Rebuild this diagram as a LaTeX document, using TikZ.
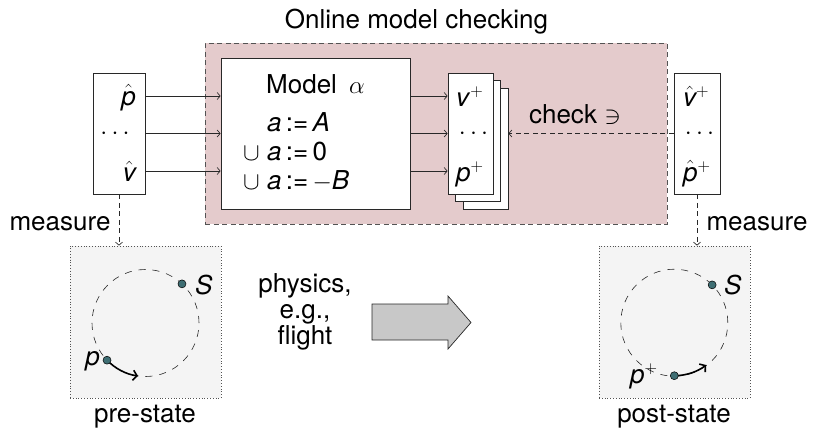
\documentclass[tikz,border=0pt]{standalone}
\usepackage{fontspec}
\setmainfont{TeX Gyre Heros}
\usetikzlibrary{arrows.meta,calc}

\definecolor{checkbg}{RGB}{228,203,204}
\definecolor{statebg}{RGB}{244,244,244}
\definecolor{dotfill}{RGB}{62,110,115}
\definecolor{flowfill}{RGB}{200,200,200}
\definecolor{edge}{RGB}{40,40,40}

\newcommand{\hv}[1]{$\hat{\mbox{\itshape #1}}$}
\newcommand{\iv}[1]{\textit{#1}}
\newcommand{\asg}{\,:=\,}

\begin{document}
\begin{tikzpicture}[x=1pt,y=-1pt,
  every node/.style={font=\fontsize{26}{26}\selectfont, inner sep=0pt},
  region/.style={rectangle, fill=checkbg, draw=edge!80, line width=0.8pt, dash pattern=on 5pt off 3.5pt},
  plainbox/.style={rectangle, fill=white, draw=edge, line width=0.8pt},
  statebox/.style={rectangle, fill=statebg, draw=edge!80, line width=0.8pt, dotted},
  feed/.style={draw=edge, line width=0.7pt, -{Straight Barb[length=3pt,width=7pt]}},
  probe/.style={draw=edge, line width=0.7pt, dash pattern=on 5pt off 3.5pt, -{Straight Barb[length=3pt,width=7pt]}},
  orbit/.style={draw=edge, line width=0.6pt, dash pattern=on 7pt off 7pt},
  motion/.style={draw=black, line width=1.6pt, -{Straight Barb[length=4pt,width=10pt,line width=1.6pt]}},
  dotmark/.style={circle, fill=dotfill, draw=black, line width=0.5pt, minimum size=8pt},
]
\useasboundingbox (0,0) rectangle (813,431);

% online model checking region
\node[region, minimum width=462pt, minimum height=181pt] (oc) at (436,133.5) {};
\node[anchor=base] (title) at (416.5,28) {Online model checking};

% model box
\node[plainbox, minimum width=189pt, minimum height=151pt] (model) at (315.5,133.5) {};
\node[anchor=base west] (mtitle) at (266,93) {Model\hspace{12pt}$\alpha$};
\node[anchor=base west] (r1) at (243,131.7) {\phantom{$\cup$} \iv{a}\asg\iv{A}};
\node[anchor=base west] (r2) at (243,160) {$\cup$ \iv{a}\asg0};
\node[anchor=base west] (r3) at (243,189.3) {$\cup$ \iv{a}\asg$-$\iv{B}};

% measured inputs
\node[plainbox, minimum width=52pt, minimum height=121pt] (in) at (119,133.5) {};
\node[anchor=base east] (inp) at (136,105) {\hv{p}};
\node[anchor=base] (indots) at (115,139.5) {$\cdots$};
\node[anchor=base east] (inv) at (136,181) {\hv{v}};

% predicted outputs (stack)
\node[plainbox, minimum width=45pt, minimum height=121pt] (out3) at (485.5,148.5) {};
\node[plainbox, minimum width=45pt, minimum height=121pt] (out2) at (478,141) {};
\node[plainbox, minimum width=45pt, minimum height=121pt] (out) at (470.5,133.5) {};
\node[anchor=base west] (outv) at (456,106) {\iv{v}$^{+}$};
\node[anchor=base] (outdots) at (473.5,139.5) {$\cdots$};
\node[anchor=base west] (outp) at (456,181) {\iv{p}$^{+}$};

% measured post values
\node[plainbox, minimum width=46pt, minimum height=121pt] (post) at (697,133.5) {};
\node[anchor=base west] (postv) at (683,106) {\hv{v}$^{+}$};
\node[anchor=base] (postdots) at (699.5,139.5) {$\cdots$};
\node[anchor=base west] (postp) at (683,181) {\hv{p}$^{+}$};

% data flow
\foreach \s in {37.5,0,-37.5}{
  \draw[feed] ([yshift=\s pt]in.east) -- ([yshift=\s pt]model.west);
  \draw[feed] ([yshift=\s pt]model.east) -- ([yshift=\s pt]out.west);
}
\draw[probe] (post.west) -- (post.west -| out3.east);
\node (chk) at (575,115) {check $\ni$};

% states
\node[statebox, minimum width=151pt, minimum height=152pt] (pre) at (145.5,322) {};
\node[statebox, minimum width=151pt, minimum height=152pt] (postst) at (674.5,322) {};
\node[anchor=base] (prelbl) at (145,422) {pre-state};
\node[anchor=base] (postlbl) at (674,422) {post-state};

\draw[probe] (in.south) -- (pre.north -| in.south);
\draw[probe] (post.south) -- (postst.north -| post.south);
\node (meas1) at (60,224) {measure};
\node (meas2) at (757,224) {measure};

% pre-state orbit
\coordinate (c1) at (145.5,323);
\draw[orbit] (c1) circle[radius=53.5pt];
\draw[motion] ($(c1)+(224:53.5pt)$) arc[start angle=224, end angle=262, radius=53.5pt];
\node[dotmark] (s1) at ($(c1)+(47:53.5pt)$) {};
\node[dotmark] (p1) at ($(c1)+(224:53.5pt)$) {};
\node[anchor=base west] (s1l) at (195,294) {\iv{S}};
\node[anchor=base east] (p1l) at (100,365) {\iv{p}};

% post-state orbit
\coordinate (c2) at (674.3,322.7);
\draw[orbit] (c2) circle[radius=53.5pt];
\draw[motion] ($(c2)+(270:53pt)$) arc[start angle=270, end angle=307, radius=53pt];
\node[dotmark] (s2) at ($(c2)+(45:53.5pt)$) {};
\node[dotmark] (p2) at ($(c2)+(270:53pt)$) {};
\node[anchor=base west] (s2l) at (724,294) {\iv{S}};
\node[anchor=base west] (p2l) at (630,383) {\iv{p}$^{+}$};

% physics
\node[align=center] (phys) at (305,312) {physics,\\e.g.,\\flight};
\draw[fill=flowfill, draw=edge, line width=0.7pt]
  (372,304) -- (448,304) -- (448,296) -- (471,322.5) -- (448,349) -- (448,340) -- (372,340) -- cycle;
\end{tikzpicture}
\end{document}
